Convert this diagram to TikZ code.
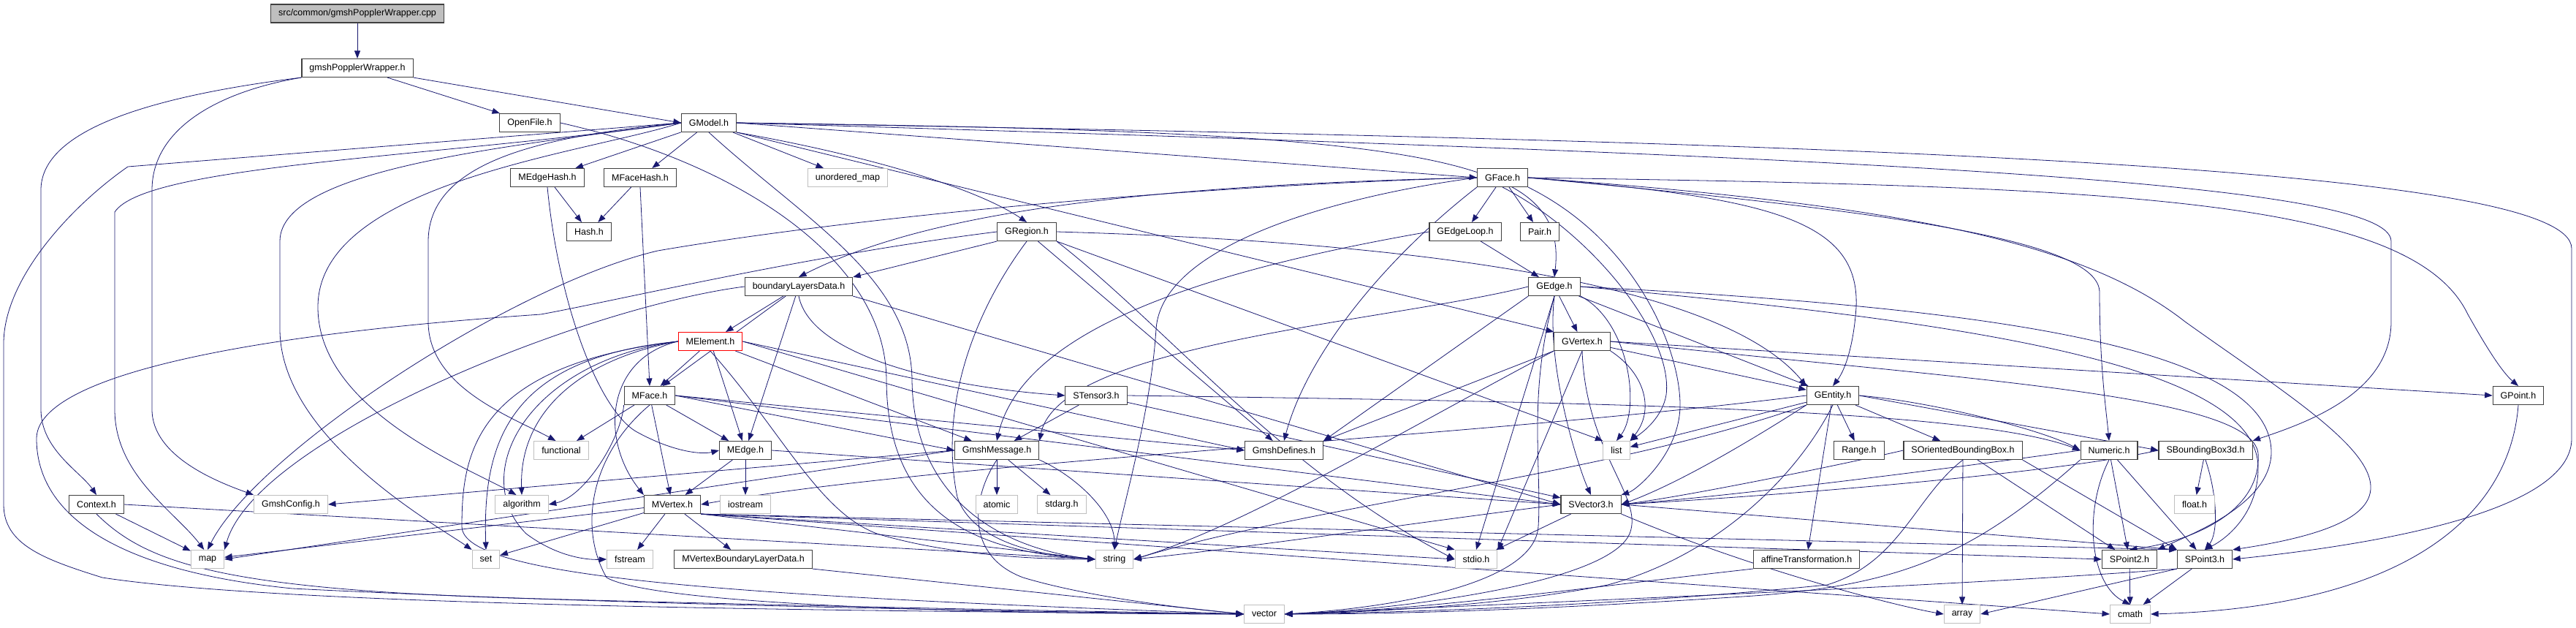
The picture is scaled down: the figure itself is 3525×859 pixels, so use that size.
\documentclass[tikz,border=0pt]{standalone}
\usepackage{fontspec}
\setmainfont{Liberation Sans}
\usepackage{tikz}
\usetikzlibrary{arrows.meta,backgrounds}
\definecolor{edgeblue}{RGB}{25,25,112}
\definecolor{boxline}{RGB}{64,64,64}
\definecolor{sysline}{RGB}{191,191,191}
\definecolor{rootfill}{RGB}{191,191,191}

\begin{document}
\begin{tikzpicture}[x=1pt, y=-1pt,
  box/.style={draw=boxline, line width=1.1pt, fill=white, minimum height=25pt, inner xsep=10.5pt, inner ysep=0pt, font=\fontsize{12.5}{14}\selectfont},
  sysbox/.style={box, draw=sysline},
  cutbox/.style={box, draw=red},
  arrow/.style={-{Triangle[length=10.5pt,width=8pt]}, edgeblue, line width=0.8pt}
]
\useasboundingbox (0,0) rectangle (3525,859);

\node[box, fill=rootfill] (src) at (489,18.5) {src/common/gmshPopplerWrapper.cpp};
\node[box] (gpw) at (489,93) {gmshPopplerWrapper.h};
\node[box] (openfile) at (725,168) {OpenFile.h};
\node[box] (gmodel) at (970,168) {GModel.h};
\node[box] (medgehash) at (749,243) {MEdgeHash.h};
\node[box] (mfacehash) at (876,243) {MFaceHash.h};
\node[sysbox] (umap) at (1160,243) {unordered\_map};
\node[box] (gface) at (2056,243) {GFace.h};
\node[box] (hash) at (806,317) {Hash.h};
\node[box] (gregion) at (1405,317) {GRegion.h};
\node[box] (gedgeloop) at (2005,317) {GEdgeLoop.h};
\node[box] (pair) at (2107,317) {Pair.h};
\node[box] (bld) at (1093,392) {boundaryLayersData.h};
\node[box] (gedge) at (2127,392) {GEdge.h};
\node[cutbox] (melement) at (972,467) {MElement.h};
\node[box] (gvertex) at (2165,467) {GVertex.h};
\node[box] (mface) at (889,541) {MFace.h};
\node[box] (stensor3) at (1500,541) {STensor3.h};
\node[box] (gentity) at (2508,541) {GEntity.h};
\node[box] (gpoint) at (3446,541) {GPoint.h};
\node[sysbox] (functional) at (768,616) {functional};
\node[box] (medge) at (1020,616) {MEdge.h};
\node[box] (gmshmessage) at (1364,616) {GmshMessage.h};
\node[box] (gmshdefines) at (1757,616) {GmshDefines.h};
\node[sysbox] (list) at (2212,616) {list};
\node[box] (range) at (2544,616) {Range.h};
\node[box] (sobb) at (2686,616) {SOrientedBoundingBox.h};
\node[box] (numeric) at (2886,616) {Numeric.h};
\node[box] (sbbox) at (3018,616) {SBoundingBox3d.h};
\node[box] (context) at (132,690) {Context.h};
\node[sysbox] (gmshconfig) at (398,690) {GmshConfig.h};
\node[sysbox] (algorithm) at (714,690) {algorithm};
\node[box] (mvertex) at (920,690) {MVertex.h};
\node[sysbox] (iostream) at (1020,690) {iostream};
\node[sysbox] (atomic) at (1364,690) {atomic};
\node[sysbox] (stdarg) at (1453,690) {stdarg.h};
\node[box] (svector3) at (2177,690) {SVector3.h};
\node[sysbox] (floath) at (3003,690) {float.h};
\node[sysbox] (map) at (284,765) {map};
\node[sysbox] (set) at (665,765) {set};
\node[sysbox] (fstream) at (862,765) {fstream};
\node[box] (mvbld) at (1017,765) {MVertexBoundaryLayerData.h};
\node[sysbox] (string) at (1525,765) {string};
\node[sysbox] (stdio) at (2020,765) {stdio.h};
\node[box] (affine) at (2472,765) {affineTransformation.h};
\node[box] (spoint2) at (2914,765) {SPoint2.h};
\node[box] (spoint3) at (3017,765) {SPoint3.h};
\node[sysbox] (vector) at (1730,840) {vector};
\node[sysbox] (array) at (2685,840) {array};
\node[sysbox] (cmath) at (2915,840) {cmath};

\begin{scope}[on background layer]
% source file and wrapper header
\draw[arrow] (src) -- (gpw);
\draw[arrow] (gpw) -- (openfile);
\draw[arrow] (gpw.south east) -- (gmodel.west);
\draw[arrow] (gpw.south west) .. controls (180,135) and (56,185) .. (56,260) -- (56,560) .. controls (56,615) and (110,645) .. (context.north);
\draw[arrow] (gpw.south west) .. controls (300,125) and (208,175) .. (208,260) -- (208,560) .. controls (208,625) and (300,660) .. (gmshconfig.north west);
\draw[arrow] (openfile.east) .. controls (1000,220) and (1212,350) .. (1213,520) .. controls (1214,700) and (1330,755) .. (string.west);

% GModel.h
\draw[arrow] (gmodel) -- (medgehash);
\draw[arrow] (gmodel) -- (mfacehash);
\draw[arrow] (gmodel) -- (umap);
\draw[arrow] (gmodel.south east) .. controls (1200,215) and (1340,260) .. (gregion.north);
\draw[arrow] (gmodel.east) -- (gface.west);
\draw[arrow] (gmodel.east) .. controls (1950,180) and (2146,210) .. (gedge.north);
\draw[arrow] (gmodel.south east) -- (gvertex.north west);
\draw[arrow] (gmodel.east) .. controls (2600,195) and (3519,230) .. (3519,340) -- (3519,600) .. controls (3519,700) and (3250,745) .. (spoint3.east);
\draw[arrow] (gmodel.east) .. controls (2600,215) and (3272,250) .. (3272,330) -- (3272,440) .. controls (3272,540) and (3150,580) .. (sbbox.north east);
\draw[arrow] (gmodel.west) -- (175,228) .. controls (100,280) and (5,380) .. (5,470) -- (5,690) .. controls (5,745) and (60,765) .. (140,790) .. controls (400,830) and (1200,836) .. (vector.west);
\draw[arrow] (gmodel.west) .. controls (600,215) and (200,225) .. (157,290) -- (157,560) .. controls (157,650) and (240,700) .. (map.110);
\draw[arrow] (gmodel.west) .. controls (700,200) and (383,230) .. (383,330) -- (383,450) .. controls (383,600) and (600,720) .. (set.north west);
\draw[arrow] (gmodel.west) .. controls (800,210) and (435,250) .. (435,420) .. controls (435,560) and (640,640) .. (algorithm.120);
\draw[arrow] (gmodel.west) .. controls (760,185) and (586,215) .. (586,330) -- (586,440) .. controls (586,530) and (700,570) .. (functional.120);
\draw[arrow] (gmodel.south) .. controls (1100,300) and (1247,380) .. (1248,520) .. controls (1250,690) and (1380,752) .. (string.west);

% hash headers
\draw[arrow] (medgehash) -- (hash);
\draw[arrow] (mfacehash) -- (hash);
\draw[arrow] (medgehash.south) .. controls (765,420) and (820,560) .. (870,590) .. controls (920,618) and (960,622) .. (medge.west);
\draw[arrow] (mfacehash.south) -- (mface.north);

% GFace.h
\draw[arrow] (gface) -- (gedgeloop);
\draw[arrow] (gface) -- (pair);
\draw[arrow] (gface.east) .. controls (2420,270) and (2545,300) .. (2540,420) .. controls (2536,480) and (2522,510) .. (gentity.north);
\draw[arrow] (gface.east) .. controls (2900,255) and (3300,270) .. (3377,430) .. controls (3405,480) and (3425,510) .. (gpoint.north);
\draw[arrow] (gface.east) .. controls (2600,290) and (2873,330) .. (2873,400) .. controls (2873,500) and (2882,560) .. (numeric.north);
\draw[arrow] (gface.east) .. controls (2600,280) and (2850,330) .. (2990,440) .. controls (3200,590) and (3400,700) .. (spoint3.north east);
\draw[arrow] (gface.south east) .. controls (2240,330) and (2300,480) .. (2299,556) .. controls (2298,620) and (2240,670) .. (svector3.north east);
\draw[arrow] (gface.south) .. controls (2180,320) and (2290,460) .. (2280,540) .. controls (2275,570) and (2250,590) .. (list.north east);
\draw[arrow] (gface.south west) .. controls (1900,350) and (1790,480) .. (gmshdefines.north);
\draw[arrow] (gface.west) .. controls (1600,255) and (1150,300) .. (900,343) .. controls (700,390) and (350,620) .. (map.north);
\draw[arrow] (gface.west) .. controls (1850,265) and (1590,330) .. (1582,450) .. controls (1575,560) and (1540,680) .. (string.north);
\draw[arrow] (gface.west) .. controls (1500,255) and (1250,300) .. (bld.north);

% GRegion.h
\draw[arrow] (gregion.south west) -- (bld.north east);
\draw[arrow] (gregion.west) .. controls (1100,350) and (850,410) .. (740,430) .. controls (300,460) and (50,520) .. (50,600) .. controls (50,700) and (150,780) .. (400,805) .. controls (900,830) and (1500,838) .. (vector.west);
\draw[arrow] (gregion.east) .. controls (1900,330) and (2350,380) .. (gentity.north west);
\draw[arrow] (gregion.south east) -- (list.north west);
\draw[arrow] (gregion.south) .. controls (1330,430) and (1285,560) .. (1310,680) .. controls (1330,740) and (1420,760) .. (string.west);
\draw[arrow] (gregion) -- (gmshdefines);
\draw[arrow] (gregion.south east) .. controls (1600,450) and (1750,640) .. (stdio.west);

% boundaryLayersData.h
\draw[arrow] (bld) -- (melement);
\draw[arrow] (bld) -- (mface);
\draw[arrow] (bld) -- (medge);
\draw[arrow] (bld.south) .. controls (1110,490) and (1300,530) .. (stensor3.west);
\draw[arrow] (bld.south east) -- (svector3.west);
\draw[arrow] (bld.west) .. controls (800,420) and (350,600) .. (map.north east);

% MElement.h
\draw[arrow] (melement) -- (mface);
\draw[arrow] (melement) -- (medge);
\draw[arrow] (melement) -- (gmshmessage);
\draw[arrow] (melement.south) .. controls (1070,590) and (1120,700) .. (1200,730) .. controls (1300,760) and (1420,765) .. (string.west);
\draw[arrow] (melement.west) .. controls (800,490) and (710,560) .. (algorithm.north);
\draw[arrow] (melement.west) .. controls (700,490) and (660,600) .. (set.north);
\draw[arrow] (melement.west) .. controls (720,495) and (640,650) .. (720,730) .. controls (760,760) and (800,766) .. (fstream.west);
\draw[arrow] (melement.west) .. controls (830,490) and (820,600) .. (mvertex.north west);
\draw[arrow] (melement.west) .. controls (650,500) and (632,620) .. (632,720) .. controls (632,790) and (1000,815) .. (vector.west);
\draw[arrow] (melement.east) -- (gmshdefines.west);
\draw[arrow] (melement.east) -- (stdio.north west);

% MFace.h
\draw[arrow] (mface) -- (mvertex);
\draw[arrow] (mface) -- (medge);
\draw[arrow] (mface) -- (functional);
\draw[arrow] (mface.south) .. controls (810,620) and (790,720) .. (830,790) .. controls (900,830) and (1400,840) .. (vector.west);
\draw[arrow] (mface.east) -- (gmshmessage.west);
\draw[arrow] (mface.east) -- (gmshdefines.west);
\draw[arrow] (mface.east) -- (svector3.west);
\draw[arrow] (mface.south west) .. controls (850,600) and (800,680) .. (algorithm.east);

% MEdge.h
\draw[arrow] (medge) -- (mvertex);
\draw[arrow] (medge) -- (iostream);
\draw[arrow] (medge.east) -- (svector3.west);

% MVertex.h
\draw[arrow] (mvertex) -- (map);
\draw[arrow] (mvertex) -- (set);
\draw[arrow] (mvertex) -- (fstream);
\draw[arrow] (mvertex) -- (mvbld);
\draw[arrow] (mvertex.south east) -- (string.west);
\draw[arrow] (mvertex.south east) -- (stdio.west);
\draw[arrow] (mvertex.south east) -- (spoint2.west);
\draw[arrow] (mvertex.south east) -- (spoint3.north west);
\draw[arrow] (mvertex.south east) -- (cmath.west);

% GmshMessage.h and STensor3.h
\draw[arrow] (gmshmessage) -- (atomic);
\draw[arrow] (gmshmessage) -- (stdarg);
\draw[arrow] (gmshmessage.south east) .. controls (1470,650) and (1525,700) .. (string.north);
\draw[arrow] (gmshmessage.south) .. controls (1330,680) and (1320,760) .. (1400,790) .. controls (1500,820) and (1650,835) .. (vector.west);
\draw[arrow] (gmshmessage.west) -- (gmshconfig.east);
\draw[arrow] (gmshmessage.west) -- (map.east);
\draw[arrow] (stensor3) -- (gmshmessage);
\draw[arrow] (stensor3) -- (svector3);
\draw[arrow] (stensor3.east) .. controls (2200,550) and (2700,560) .. (numeric.west);

% GEdgeLoop.h and GEdge.h
\draw[arrow] (gedgeloop) -- (gedge);
\draw[arrow] (gedgeloop.west) .. controls (1650,370) and (1400,450) .. (gmshmessage.north);
\draw[arrow] (gedge) -- (gvertex);
\draw[arrow] (gedge) -- (gentity);
\draw[arrow] (gedge.west) .. controls (1900,440) and (1450,470) .. (gmshmessage.north east);
\draw[arrow] (gedge.south west) -- (gmshdefines.north east);
\draw[arrow] (gedge.south) -- (stdio.north);
\draw[arrow] (gedge.south) .. controls (2115,500) and (2160,640) .. (svector3.north);
\draw[arrow] (gedge.south east) .. controls (2230,440) and (2245,560) .. (list.north);
\draw[arrow] (gedge.south) .. controls (2090,540) and (2110,640) .. (2105,720) .. controls (2100,800) and (1900,832) .. (vector.east);
\draw[arrow] (gedge.east) .. controls (2700,420) and (3110,470) .. (3108,620) .. controls (3106,690) and (3000,730) .. (spoint2.north east);
\draw[arrow] (gedge.east) .. controls (2700,440) and (3090,500) .. (3090,640) .. controls (3090,700) and (3050,735) .. (spoint3.north);

% GVertex.h
\draw[arrow] (gvertex) -- (gentity);
\draw[arrow] (gvertex.south west) -- (gmshdefines.north east);
\draw[arrow] (gvertex.south) -- (stdio.north east);
\draw[arrow] (gvertex.south east) .. controls (2250,510) and (2265,560) .. (list.north east);
\draw[arrow] (gvertex.south) .. controls (2170,620) and (2250,680) .. (2230,730) .. controls (2200,800) and (1900,835) .. (vector.east);
\draw[arrow] (gvertex.south west) .. controls (1900,600) and (1700,720) .. (string.east);
\draw[arrow] (gvertex.east) -- (gpoint.west);
\draw[arrow] (gvertex.east) .. controls (2700,520) and (3080,540) .. (3090,620) .. controls (3095,700) and (3000,740) .. (spoint2.north);

% GEntity.h
\draw[arrow] (gentity) -- (list);
\draw[arrow] (gentity) -- (range);
\draw[arrow] (gentity) -- (sobb);
\draw[arrow] (gentity) -- (affine);
\draw[arrow] (gentity.south west) .. controls (2400,600) and (2300,660) .. (svector3.east);
\draw[arrow] (gentity.south) .. controls (2460,650) and (2350,760) .. (2200,800) .. controls (2050,830) and (1850,838) .. (vector.east);
\draw[arrow] (gentity.south west) .. controls (2200,650) and (1800,690) .. (string.east);
\draw[arrow] (gentity.west) .. controls (2000,600) and (1300,630) .. (mvertex.east);
\draw[arrow] (gentity.east) .. controls (2650,550) and (2800,590) .. (numeric.west);
\draw[arrow] (gentity.east) -- (sbbox.west);

% geometry helpers
\draw[arrow] (sobb.west) .. controls (2500,640) and (2300,680) .. (svector3.east);
\draw[arrow] (sobb) -- (spoint2);
\draw[arrow] (sobb) -- (array);
\draw[arrow] (sobb.south east) -- (spoint3.north west);
\draw[arrow] (sobb.south) .. controls (2620,680) and (2600,770) .. (2500,800) .. controls (2200,830) and (1900,838) .. (vector.east);
\draw[arrow] (numeric) -- (spoint2);
\draw[arrow] (numeric) -- (spoint3);
\draw[arrow] (numeric.south) .. controls (2850,700) and (2860,800) .. (cmath.north);
\draw[arrow] (numeric.west) .. controls (2600,650) and (2350,680) .. (svector3.east);
\draw[arrow] (numeric.south west) .. controls (2700,760) and (2600,800) .. (2400,815) .. controls (2100,835) and (1900,840) .. (vector.east);
\draw[arrow] (sbbox) -- (floath);
\draw[arrow] (sbbox.south) .. controls (3035,680) and (3035,730) .. (spoint3.north);
\draw[arrow] (sbbox.west) .. controls (2800,650) and (2400,680) .. (svector3.east);
\draw[arrow] (svector3) -- (stdio);
\draw[arrow] (svector3.west) .. controls (1900,720) and (1700,750) .. (string.east);
\draw[arrow] (svector3.south east) .. controls (2400,780) and (2600,830) .. (array.west);
\draw[arrow] (svector3.east) -- (spoint3.north west);
\draw[arrow] (spoint3) -- (cmath);
\draw[arrow] (spoint3.south west) -- (array.east);
\draw[arrow] (spoint3.south west) .. controls (2700,800) and (2200,820) .. (vector.east);
\draw[arrow] (spoint2) -- (cmath);
\draw[arrow] (gpoint.south) .. controls (3435,700) and (3300,830) .. (cmath.east);
\draw[arrow] (affine.south west) .. controls (2200,800) and (1950,835) .. (vector.east);
\draw[arrow] (mvbld.south east) -- (vector.west);

% Context.h
\draw[arrow] (context) -- (map);
\draw[arrow] (context.south) .. controls (200,770) and (300,805) .. (700,818) .. controls (1200,832) and (1600,838) .. (vector.west);
\draw[arrow] (context.east) -- (string.west);
\end{scope}

\end{tikzpicture}
\end{document}
